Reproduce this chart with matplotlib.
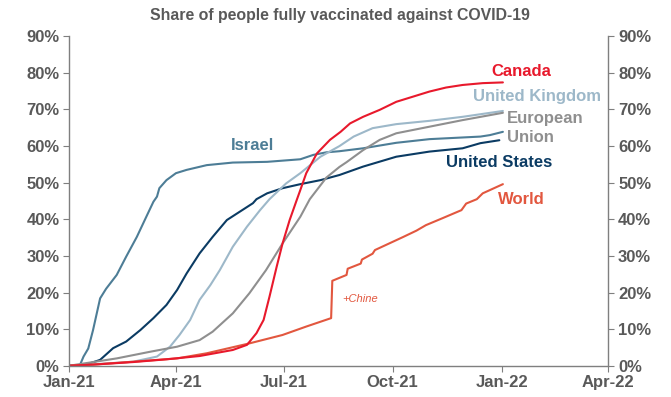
import numpy as np
import matplotlib
matplotlib.use("Agg")
import matplotlib.pyplot as plt
from matplotlib.ticker import FuncFormatter

plt.rcParams['font.family'] = ['Liberation Sans', 'DejaVu Sans']

START = np.datetime64('2021-01-01')

# days since 2021-01-01, share fully vaccinated (%)
israel_days = [0, 9, 12, 16, 20, 26, 31, 40, 48, 57, 65, 71, 74, 76, 82, 90, 99, 116, 138, 167, 195, 206, 217, 228, 248, 276, 304, 347, 355, 366]
israel_vals = [0, 0.2, 2.5, 4.7, 9.7, 18.4, 21, 24.8, 29.8, 35.2, 40.7, 44.8, 46.2, 48.5, 50.7, 52.6, 53.5, 54.8, 55.5, 55.7, 56.4, 57.6, 58.3, 58.6, 59.4, 60.9, 61.9, 62.6, 63.0, 63.9]

us_days = [0, 8, 17, 26, 37, 48, 60, 71, 82, 91, 99, 110, 121, 133, 144, 155, 158, 167, 180, 195, 212, 228, 248, 276, 304, 332, 347, 363]
us_vals = [0, 0.1, 0.6, 1.6, 4.8, 6.6, 9.75, 13, 16.6, 20.7, 25.2, 30.7, 35.2, 39.8, 42.1, 44.4, 45.5, 47.1, 48.5, 49.6, 50.7, 52.1, 54.4, 57.1, 58.5, 59.4, 60.8, 61.6]

uk_days = [0, 10, 26, 54, 74, 85, 93, 102, 110, 119, 127, 138, 150, 161, 169, 183, 195, 212, 228, 240, 256, 276, 304, 332, 366]
uk_vals = [0, 0.2, 0.5, 1.1, 2.5, 5.2, 8.4, 12.5, 18, 22, 26.1, 32.5, 38, 42.5, 45.5, 49.8, 52.6, 57.1, 60.0, 62.6, 64.9, 66, 66.9, 68, 69.6]

eu_days = [0, 12, 40, 68, 91, 110, 121, 138, 152, 166, 180, 195, 203, 217, 228, 234, 248, 262, 276, 304, 332, 366]
eu_vals = [0, 0.6, 2, 3.8, 5.2, 7, 9.3, 14.3, 19.8, 26.1, 33.4, 40.7, 45.5, 51.4, 54.3, 55.6, 58.9, 61.7, 63.5, 65.3, 67.1, 69.1]

canada_days = [0, 20, 54, 82, 110, 138, 150, 158, 164, 169, 175, 180, 186, 192, 195, 200, 209, 220, 229, 237, 248, 262, 276, 290, 304, 318, 332, 349, 366]
canada_vals = [0, 0.3, 1.0, 1.75, 2.65, 4.3, 5.7, 8.9, 12.5, 18.9, 27, 33.4, 39.8, 45.3, 48, 52.6, 58, 61.7, 63.9, 66.2, 68, 69.9, 72.1, 73.5, 74.9, 76, 76.7, 77.2, 77.4]

world_days = [0, 20, 54, 91, 116, 152, 180, 200, 221, 222, 234, 235, 246, 247, 256, 258, 270, 282, 293, 301, 315, 331, 335, 344, 349, 366]
world_vals = [0, 0.3, 1.1, 2.0, 3.4, 6.1, 8.4, 10.7, 13.0, 23.2, 24.8, 26.5, 27.9, 29.0, 30.6, 31.6, 33.4, 35.2, 36.9, 38.4, 40.3, 42.5, 44.3, 45.5, 47.1, 49.6]

series = [
    ("Israel", israel_days, israel_vals, "#4d7d96"),
    ("United States", us_days, us_vals, "#0b3b63"),
    ("United Kingdom", uk_days, uk_vals, "#9db8c9"),
    ("European Union", eu_days, eu_vals, "#8f8f8f"),
    ("World", world_days, world_vals, "#e2573f"),
    ("Canada", canada_days, canada_vals, "#e8192c"),
]

tick_dates = ['2021-01-01', '2021-04-01', '2021-07-01', '2021-10-01', '2022-01-01', '2022-04-01']
tick_labels = ['Jan-21', 'Apr-21', 'Jul-21', 'Oct-21', 'Jan-22', 'Apr-22']

fig = plt.figure(figsize=(6.71, 3.97), dpi=100)
ax = fig.add_axes([0.1033, 0.0788, 0.8033, 0.8298])

for name, d, v, c in series:
    dates = START + np.array(d).astype('timedelta64[D]')
    ax.plot(dates.astype('datetime64[D]').astype(object), np.array(v) / 100, color=c, lw=1.5,
            solid_joinstyle='round', solid_capstyle='round')

ax.set_xlim(np.datetime64('2021-01-01').astype(object), np.datetime64('2022-04-01').astype(object))
ax.set_ylim(0, 0.9)
ax.set_xticks([np.datetime64(t).astype(object) for t in tick_dates])
ax.set_xticklabels(tick_labels)
ax.set_yticks(np.arange(0, 0.91, 0.1))
ax.yaxis.set_major_formatter(FuncFormatter(lambda y, p: f"{y*100:.0f}%"))

gray = "#595959"
spine_c = "#7f7f7f"
ax.spines['top'].set_visible(False)
for s in ['left', 'right', 'bottom']:
    ax.spines[s].set_color(spine_c)
    ax.spines[s].set_linewidth(1.0)
ax.tick_params(axis='y', which='both', left=True, right=True, labelleft=True, labelright=True,
               direction='out', length=4, color=spine_c, labelsize=12, labelcolor=gray, pad=3)
ax.tick_params(axis='x', direction='out', length=4, color=spine_c, labelsize=12, labelcolor=gray, pad=3)
for lab in ax.get_xticklabels():
    lab.set_fontweight('bold')
for t in ax.yaxis.get_major_ticks():
    t.label1.set_fontweight('bold')
    t.label2.set_fontweight('bold')

fig.text(0.507, 0.962, "Share of people fully vaccinated against COVID-19", ha='center', va='center',
         fontsize=11.4, fontweight='bold', color=gray)

def px(x, y):
    return (x / 671, 1 - y / 397)

lab_kw = dict(fontsize=12, fontweight='bold', va='center')
fig.text(*px(521, 71), "Canada", color="#e8192c", ha='center', **lab_kw)
fig.text(*px(537, 96), "United Kingdom", color="#9db8c9", ha='center', **lab_kw)
fig.text(*px(507, 119), "European", color="#8f8f8f", ha='left', **lab_kw)
fig.text(*px(507, 138), "Union", color="#8f8f8f", ha='left', **lab_kw)
fig.text(*px(499, 162.5), "United States", color="#0b3b63", ha='center', **lab_kw)
fig.text(*px(498, 199), "World", color="#e2573f", ha='left', **lab_kw)
fig.text(*px(252, 145.5), "Israel", color="#4d7d96", ha='center', **lab_kw)
fig.text(*px(342, 299), "+Chine", color="#e2573f", ha='left', va='center', fontsize=8, style='italic')

fig.savefig("out.png", dpi=100)
